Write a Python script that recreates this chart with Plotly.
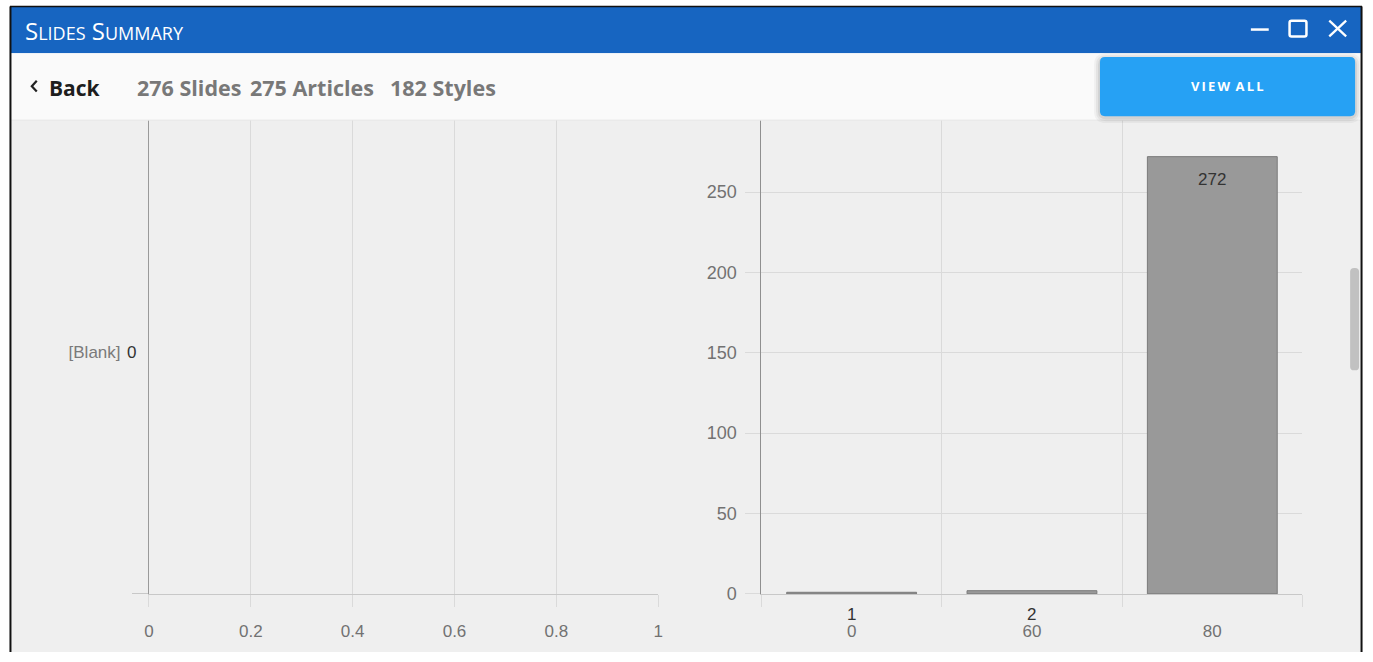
import plotly.graph_objects as go

W, H = 1373, 662

# ---- data ----
left_categories = ["[Blank]"]
left_values = [0]
right_categories = ["0", "60", "80"]
right_values = [1, 2, 272]
left_ticks = [0, 0.2, 0.4, 0.6, 0.8, 1]
right_ticks = [0, 50, 100, 150, 200, 250]
header_counts = ["276 Slides", "275 Articles", "182 Styles"]


def X(px):
    return px / W


def Y(py):
    return 1 - py / H


AXIS_FONT = dict(family="Liberation Sans, Arial", size=17, color="#727272")
Y2_FONT = dict(family="Liberation Sans, Arial", size=18, color="#727272")
GRID = "#dadada"
BAR_FILL = "#999999"
BAR_LINE = "#7a7a7a"

fig = go.Figure()

fig.add_trace(go.Bar(
    x=left_values, y=left_categories, orientation="h",
    marker=dict(color=BAR_FILL, line=dict(width=0)),
    xaxis="x", yaxis="y", hoverinfo="skip", showlegend=False,
))
fig.add_trace(go.Bar(
    x=right_categories, y=right_values, width=0.72,
    marker=dict(color=BAR_FILL, line=dict(color=BAR_LINE, width=1)),
    xaxis="x2", yaxis="y2", hoverinfo="skip", showlegend=False,
))

ydom = [Y(603), Y(122)]

fig.update_layout(
    autosize=True,
    margin=dict(l=0, r=0, t=0, b=0),
    paper_bgcolor="white",
    plot_bgcolor="rgba(0,0,0,0)",
    showlegend=False,
    xaxis=dict(
        domain=[X(145), X(658)], range=[0, 1], tickvals=left_ticks,
        ticktext=[f"{v:g}" for v in left_ticks],
        showgrid=True, gridcolor=GRID, zeroline=False,
        showline=True, linecolor="#c8c8c8", linewidth=1,
        ticks="outside", ticklen=12, tickcolor=GRID,
        tickfont=AXIS_FONT, ticklabelstandoff=10, anchor="y",
        fixedrange=True,
    ),
    yaxis=dict(
        domain=ydom, type="category", range=[-0.5, 0.48],
        showgrid=False, zeroline=False,
        showline=True, linecolor="#9a9a9a", linewidth=1,
        ticks="outside", ticklen=16, tickcolor="#c8c8c8", tickson="boundaries",
        tickfont=dict(family="Liberation Sans, Arial", size=17, color="#7a7a7a"),
        ticklabelstandoff=24, anchor="x", fixedrange=True,
    ),
    xaxis2=dict(
        domain=[X(762), X(1307)], type="category", range=[-0.5, 2.5],
        showgrid=True, gridcolor=GRID, zeroline=False,
        showline=True, linecolor="#c8c8c8", linewidth=1,
        ticks="outside", ticklen=12, tickcolor=GRID, tickson="boundaries",
        tickfont=AXIS_FONT, ticklabelstandoff=22, anchor="y2",
        fixedrange=True,
    ),
    yaxis2=dict(
        domain=ydom, range=[0, 294.7], tickvals=right_ticks,
        showgrid=True, gridcolor=GRID, zeroline=False,
        showline=True, linecolor="#8f8f8f", linewidth=1,
        ticks="outside", ticklen=15, tickcolor=GRID,
        tickfont=Y2_FONT, ticklabelstandoff=5, anchor="x2",
        fixedrange=True,
    ),
)

shapes = []
# chart area background
shapes.append(dict(type="rect", xref="paper", yref="paper", layer="below",
                   x0=X(5), x1=X(1367), y0=Y(662), y1=Y(122),
                   fillcolor="#efefef", line=dict(width=0)))
# title bar
shapes.append(dict(type="rect", xref="paper", yref="paper", layer="above",
                   x0=X(6), x1=X(1366), y0=Y(54), y1=Y(7),
                   fillcolor="#1765c1", line=dict(width=0)))
# white header
shapes.append(dict(type="rect", xref="paper", yref="paper", layer="above",
                   x0=X(6), x1=X(1366), y0=Y(122), y1=Y(54),
                   fillcolor="#fafafa", line=dict(width=0)))
shapes.append(dict(type="line", xref="paper", yref="paper", layer="above",
                   x0=X(6), x1=X(1366), y0=Y(122), y1=Y(122),
                   line=dict(color="#e4e4e4", width=1)))
# window border
shapes.append(dict(type="line", xref="paper", yref="paper", layer="above",
                   x0=X(5.5), x1=X(5.5), y0=Y(662), y1=Y(6.5),
                   line=dict(color="#111111", width=2)))
shapes.append(dict(type="line", xref="paper", yref="paper", layer="above",
                   x0=X(1366.5), x1=X(1366.5), y0=Y(662), y1=Y(6.5),
                   line=dict(color="#111111", width=2)))
shapes.append(dict(type="line", xref="paper", yref="paper", layer="above",
                   x0=X(5), x1=X(1367), y0=Y(6.5), y1=Y(6.5),
                   line=dict(color="#111111", width=1.5)))


def rounded_rect(x0, y0, x1, y1, r):
    pts = [
        f"M {X(x0 + r)},{Y(y0)}",
        f"L {X(x1 - r)},{Y(y0)}",
        f"Q {X(x1)},{Y(y0)} {X(x1)},{Y(y0 + r)}",
        f"L {X(x1)},{Y(y1 - r)}",
        f"Q {X(x1)},{Y(y1)} {X(x1 - r)},{Y(y1)}",
        f"L {X(x0 + r)},{Y(y1)}",
        f"Q {X(x0)},{Y(y1)} {X(x0)},{Y(y1 - r)}",
        f"L {X(x0)},{Y(y0 + r)}",
        f"Q {X(x0)},{Y(y0)} {X(x0 + r)},{Y(y0)}",
        "Z",
    ]
    return " ".join(pts)


# button shadow + button
for grow, alpha in [(6, 0.04), (4, 0.05), (2, 0.07)]:
    shapes.append(dict(type="path", xref="paper", yref="paper", layer="above",
                       path=rounded_rect(1103 - grow, 58 - grow + 2, 1360 + grow, 118 + grow + 1, 6 + grow),
                       fillcolor=f"rgba(0,0,0,{alpha})", line=dict(width=0)))
shapes.append(dict(type="path", xref="paper", yref="paper", layer="above",
                   path=rounded_rect(1103, 58, 1360, 118, 5),
                   fillcolor="#26a1f4", line=dict(width=0)))

# window controls
shapes.append(dict(type="line", xref="paper", yref="paper", layer="above",
                   x0=X(1255), x1=X(1273), y0=Y(30), y1=Y(30),
                   line=dict(color="white", width=2.5)))
shapes.append(dict(type="path", xref="paper", yref="paper", layer="above",
                   path=rounded_rect(1294, 21, 1311, 37, 2),
                   fillcolor="rgba(0,0,0,0)", line=dict(color="white", width=2.5)))
shapes.append(dict(type="line", xref="paper", yref="paper", layer="above",
                   x0=X(1334), x1=X(1351), y0=Y(21), y1=Y(37),
                   line=dict(color="white", width=2.3)))
shapes.append(dict(type="line", xref="paper", yref="paper", layer="above",
                   x0=X(1351), x1=X(1334), y0=Y(21), y1=Y(37),
                   line=dict(color="white", width=2.3)))

# back chevron
shapes.append(dict(type="path", xref="paper", yref="paper", layer="above",
                   path=f"M {X(32)},{Y(82)} L {X(27)},{Y(87.5)} L {X(32)},{Y(93)}",
                   line=dict(color="#222222", width=2.2)))

# scrollbar thumb
shapes.append(dict(type="path", xref="paper", yref="paper", layer="above",
                   path=rounded_rect(1355, 272, 1364, 376, 4),
                   fillcolor="#c1c1c1", line=dict(width=0)))

fig.update_layout(shapes=shapes)

ann = []
# title
ann.append(dict(xref="paper", yref="paper", x=X(18), y=Y(31), xanchor="left", yanchor="middle",
                showarrow=False,
                text='S<span style="font-size:18px">LIDES</span> S<span style="font-size:18px">UMMARY</span>',
                font=dict(family="Open Sans", size=24, color="white")))
# back
ann.append(dict(xref="paper", yref="paper", x=X(42), y=Y(89), xanchor="left", yanchor="middle",
                showarrow=False, text="<b>Back</b>",
                font=dict(family="Open Sans", size=21, color="#1e1e1e")))
for txt, xp in zip(header_counts, [131, 245, 386]):
    ann.append(dict(xref="paper", yref="paper", x=X(xp), y=Y(89), xanchor="left", yanchor="middle",
                    showarrow=False, text=f"<b>{txt}</b>",
                    font=dict(family="Open Sans", size=21.5, color="#787878")))
# button text
ann.append(dict(xref="paper", yref="paper", x=X(1231), y=Y(87), xanchor="center", yanchor="middle",
                showarrow=False, text="<b>V\u2009I\u2009E\u2009W\u2009 A\u2009L\u2009L</b>",
                font=dict(family="Open Sans", size=13, color="white")))

# data labels (x positions are category indices on the category axis)
LABEL_FONT = dict(family="Liberation Sans, Arial", size=17, color="#333333")
for cat, v in zip(left_categories, left_values):
    ann.append(dict(xref="x", yref="y", x=v, y=0, xanchor="right", yanchor="middle",
                    xshift=-11, showarrow=False, text=str(v), font=LABEL_FONT))
for i, v in enumerate(right_values):
    if v > 20:
        ann.append(dict(xref="x2", yref="y2", x=i, y=v, xanchor="center", yanchor="top",
                        yshift=-11, showarrow=False, text=str(v), font=LABEL_FONT))
    else:
        ann.append(dict(xref="x2", yref="y2", x=i, y=0, xanchor="center", yanchor="top",
                        yshift=-9, showarrow=False, text=str(v), font=LABEL_FONT))

fig.update_layout(annotations=ann)

fig.write_html(
    "out.html",
    config={"displayModeBar": False, "responsive": True},
    default_width="100vw", default_height="100vh",
    post_script=(
        "document.documentElement.style.margin='0';"
        "document.body.style.margin='0';"
        "document.body.style.overflow='hidden';"
        "document.documentElement.style.overflow='hidden';"
        "Plotly.Plots.resize(document.getElementById('{plot_id}'));"
    ),
)
